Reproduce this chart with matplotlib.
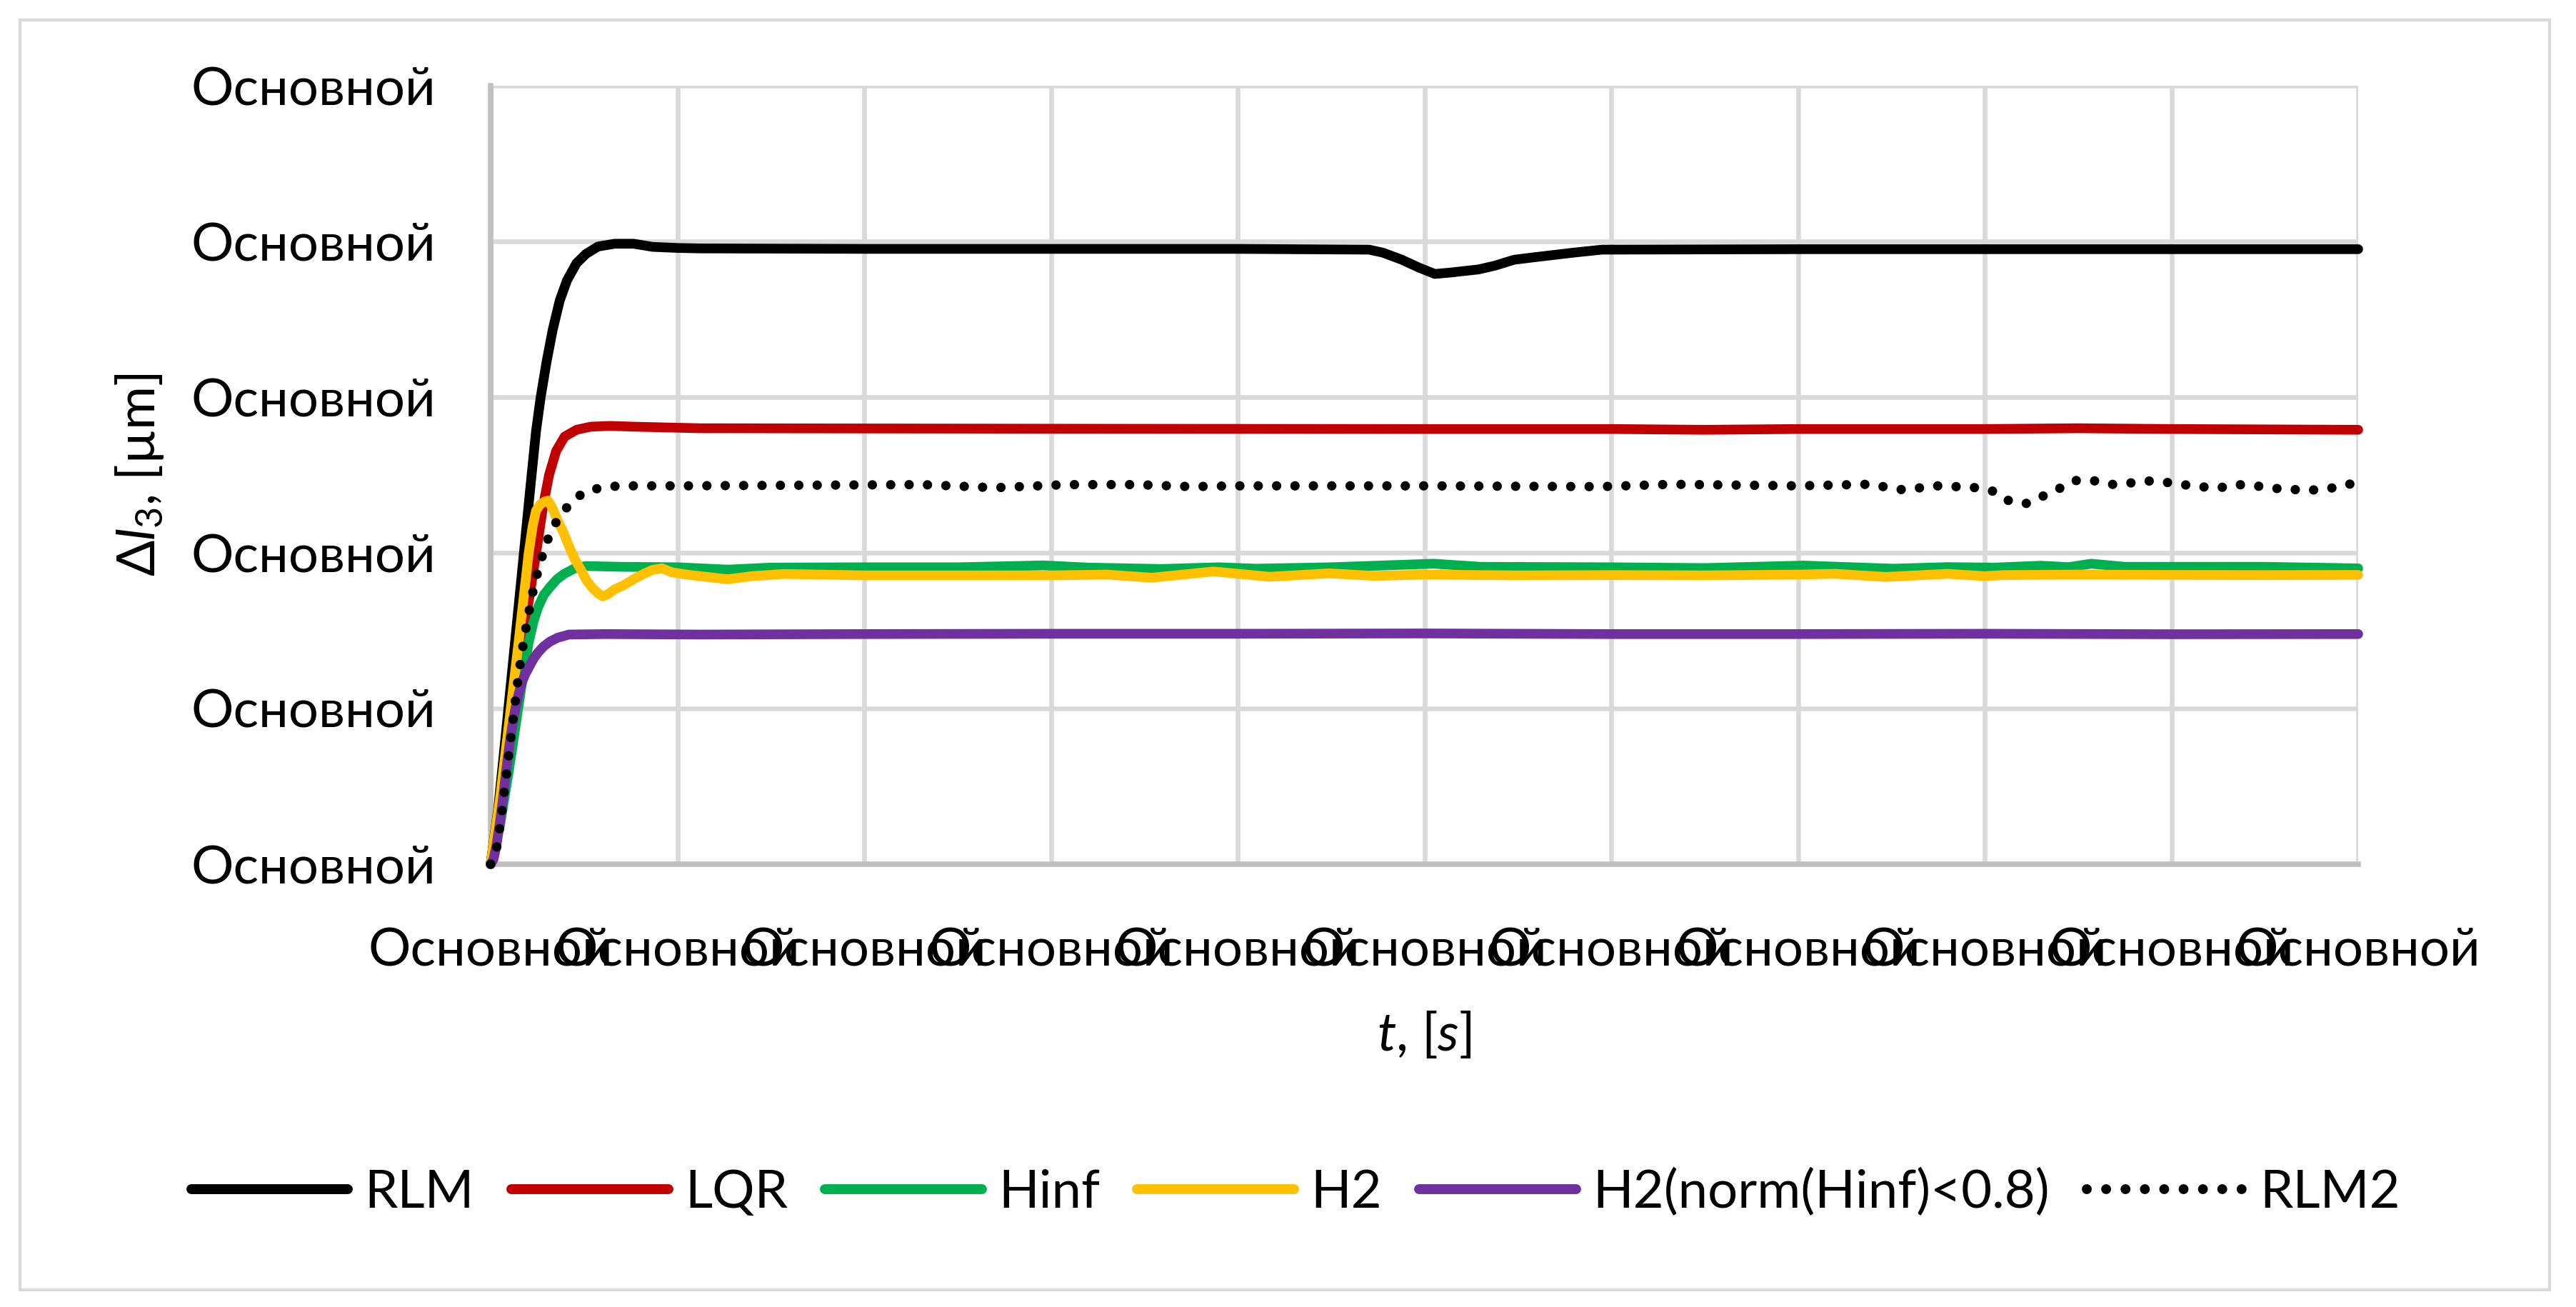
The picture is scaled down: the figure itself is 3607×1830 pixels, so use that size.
import matplotlib
matplotlib.use("Agg")
import matplotlib.pyplot as plt
from matplotlib.patches import Rectangle

plt.rcParams['font.family'] = ['Lato', 'DejaVu Sans']
plt.rcParams['mathtext.fontset'] = 'custom'
plt.rcParams['mathtext.rm'] = 'Lato'
plt.rcParams['mathtext.it'] = 'Lato:italic'
plt.rcParams['mathtext.bf'] = 'Lato:bold'

# ---------------- data ----------------
tick_label = "Основной"
x_ticks = [0, 1, 2, 3, 4, 5, 6, 7, 8, 9, 10]
y_ticks = [0, 1, 2, 3, 4, 5]

rlm_t = [0, 0.04, 0.08, 0.12, 0.15, 0.179, 0.211, 0.243, 0.268, 0.3, 0.332, 0.37, 0.409, 0.46,
         0.511, 0.575, 0.664, 0.766, 0.867, 1.0, 1.12, 2.0, 3.0, 4.0, 4.704, 4.777, 4.88, 4.97,
         5.056, 5.14, 5.29, 5.377, 5.48, 5.58, 5.8, 5.95, 7.0, 8.0, 9.0, 10.0]
rlm_v = [0, 0.35, 0.82, 1.3, 1.66, 2.01, 2.40, 2.78, 3.0, 3.23, 3.43, 3.62, 3.75, 3.86,
         3.92, 3.967, 3.985, 3.985, 3.965, 3.958, 3.955, 3.952, 3.952, 3.952, 3.947, 3.928, 3.882, 3.832,
         3.791, 3.80, 3.82, 3.844, 3.882, 3.897, 3.928, 3.947, 3.95, 3.95, 3.95, 3.95]

lqr_t = [0, 0.05, 0.1, 0.15, 0.2, 0.23, 0.255, 0.281, 0.313, 0.351, 0.396, 0.46, 0.536, 0.64,
         0.766, 1.12, 3.0, 5.0, 6.0, 6.5, 7.0, 8.0, 8.5, 9.0, 10.0]
lqr_v = [0, 0.38, 0.82, 1.27, 1.66, 1.89, 2.09, 2.3, 2.5, 2.654, 2.746, 2.79, 2.81, 2.815,
         2.81, 2.80, 2.797, 2.795, 2.795, 2.79, 2.795, 2.795, 2.80, 2.795, 2.79]

hinf_t = [0, 0.05, 0.1, 0.135, 0.165, 0.203, 0.23, 0.254, 0.285, 0.318, 0.355, 0.394, 0.45,
          0.51, 0.7, 1.0, 1.27, 1.5, 2.0, 2.5, 2.96, 3.2, 3.59, 3.9, 4.1, 4.5, 5.05, 5.3, 6.0,
          6.5, 7.03, 7.51, 7.8, 8.05, 8.3, 8.45, 8.57, 8.75, 9.5, 10.0]
hinf_v = [0, 0.25, 0.62, 0.9, 1.14, 1.42, 1.56, 1.65, 1.73, 1.78, 1.83, 1.865, 1.90,
          1.915, 1.91, 1.907, 1.892, 1.905, 1.907, 1.907, 1.919, 1.905, 1.896, 1.907, 1.898, 1.907, 1.93, 1.91, 1.907,
          1.902, 1.918, 1.898, 1.908, 1.905, 1.917, 1.908, 1.93, 1.91, 1.91, 1.90]

h2_t = [0, 0.05, 0.1, 0.152, 0.204, 0.225, 0.243, 0.265, 0.29, 0.307, 0.33, 0.358, 0.39, 0.42,
        0.45, 0.484, 0.515, 0.548, 0.575, 0.6, 0.63, 0.663, 0.71, 0.765, 0.82, 0.867, 0.918,
        0.969, 1.05, 1.12, 1.27, 1.4, 1.57, 2.0, 2.5, 3.0, 3.3, 3.54, 3.87, 4.17, 4.49, 4.73,
        5.0, 5.5, 6.0, 6.5, 7.0, 7.2, 7.47, 7.8, 8.0, 8.1, 8.5, 9.0, 9.5, 10.0]
h2_v = [0, 0.42, 0.92, 1.45, 2.0, 2.17, 2.27, 2.31, 2.33, 2.335, 2.29, 2.21, 2.13, 2.04,
        1.96, 1.89, 1.82, 1.77, 1.74, 1.72, 1.735, 1.765, 1.79, 1.83, 1.865, 1.89, 1.90,
        1.875, 1.86, 1.85, 1.83, 1.85, 1.864, 1.855, 1.855, 1.855, 1.86, 1.84, 1.88, 1.846, 1.868, 1.852,
        1.86, 1.855, 1.857, 1.855, 1.86, 1.865, 1.845, 1.865, 1.85, 1.857, 1.86, 1.858, 1.857, 1.858]

h2n_t = [0, 0.015, 0.031, 0.05, 0.07, 0.088, 0.107, 0.126, 0.145, 0.165, 0.185, 0.203, 0.23,
         0.254, 0.285, 0.318, 0.36, 0.42, 0.612, 1.12, 2.0, 3.0, 4.0, 5.0, 6.0, 7.0, 8.0, 9.0, 10.0]
h2n_v = [0, 0.03, 0.12, 0.27, 0.46, 0.65, 0.82, 0.96, 1.07, 1.16, 1.22, 1.26, 1.32,
         1.36, 1.40, 1.43, 1.455, 1.475, 1.478, 1.475, 1.478, 1.48, 1.48, 1.482, 1.478, 1.478, 1.48, 1.477, 1.478]

rlm2_t = [0, 0.031, 0.046, 0.059, 0.07, 0.082, 0.093, 0.105, 0.116, 0.128, 0.139, 0.152, 0.166,
          0.181, 0.198, 0.216, 0.235, 0.26, 0.286, 0.32, 0.366, 0.428, 0.5, 0.595, 0.69, 1.0,
          2.31, 2.7, 3.08, 3.46, 3.75, 4.0, 5.0, 5.94, 6.32, 7.0, 7.38, 7.56, 7.75, 7.94,
          8.047, 8.13, 8.22, 8.31, 8.40, 8.48, 8.58, 8.68, 8.77, 8.87, 8.97, 9.06, 9.16, 9.25,
          9.35, 9.44, 9.53, 9.63, 9.72, 9.82, 9.91, 10.0]
rlm2_v = [0, 0.095, 0.21, 0.324, 0.44, 0.55, 0.665, 0.78, 0.893, 1.006, 1.12, 1.235, 1.35,
          1.462, 1.576, 1.69, 1.80, 1.91, 2.02, 2.13, 2.23, 2.32, 2.39, 2.42, 2.43, 2.43,
          2.438, 2.418, 2.438, 2.438, 2.425, 2.43, 2.43, 2.425, 2.44, 2.43, 2.44, 2.405, 2.43, 2.42,
          2.395, 2.334, 2.316, 2.363, 2.413, 2.464, 2.464, 2.439, 2.447, 2.462, 2.453, 2.438, 2.424, 2.416,
          2.438, 2.433, 2.415, 2.409, 2.40, 2.409, 2.426, 2.456]

series = [
    ("RLM", rlm_t, rlm_v, "#000000", "-"),
    ("LQR", lqr_t, lqr_v, "#C00000", "-"),
    ("Hinf", hinf_t, hinf_v, "#00B050", "-"),
    ("H2", h2_t, h2_v, "#FFC000", "-"),
    ("H2(norm(Hinf)<0.8)", h2n_t, h2n_v, "#7030A0", "-"),
    ("RLM2", rlm2_t, rlm2_v, "#000000", ":"),
]

# ---------------- figure ----------------
W, H = 3607, 1830
fig = plt.figure(figsize=(W / 100, H / 100), dpi=100)
fig.patch.set_facecolor("white")
fig.patches.append(Rectangle((28 / W, 1 - 1806 / H), (3570 - 28) / W, (1806 - 28) / H,
                             transform=fig.transFigure, fill=False,
                             edgecolor="#d9d9d9", linewidth=3))

ax = fig.add_axes([687 / W, 1 - 1210 / H, (3302 - 687) / W, (1210 - 120) / H])
FS = 53.5

for name, t, v, col, ls in series:
    if ls == ":":
        ax.plot(t, v, color=col, lw=9.5, linestyle=(0, (0.001, 1.95)),
                dash_capstyle="round", label=name, clip_on=False, zorder=3)
    else:
        ax.plot(t, v, color=col, lw=9.8, solid_capstyle="round",
                solid_joinstyle="round", label=name, clip_on=False, zorder=3)

ax.set_xlim(0, 10)
ax.set_ylim(0, 5)
ax.set_xticks(x_ticks)
ax.set_yticks(y_ticks)
ax.set_xticklabels([tick_label] * len(x_ticks), fontsize=FS)
ax.set_yticklabels([tick_label] * len(y_ticks), fontsize=FS)
ax.tick_params(axis="both", length=0)
ax.tick_params(axis="y", pad=55)
ax.tick_params(axis="x", pad=64)
ax.grid(True, color="#d9d9d9", linewidth=4.7, zorder=0)
ax.set_axisbelow(True)
for s in ["top", "right"]:
    ax.spines[s].set_visible(False)
for s in ["left", "bottom"]:
    ax.spines[s].set_color("#bfbfbf")
    ax.spines[s].set_linewidth(5.4)
    ax.spines[s].set_zorder(1)

ax.set_xlabel(r"$\mathit{t}$, [$\mathit{s}$]", fontsize=FS)
ax.set_ylabel(r"$\mathit{Δl}_{\mathregular{3}}$, [µm]", fontsize=FS)
ax.xaxis.set_label_coords(0.5, -0.186)
ax.yaxis.set_label_coords(-0.174, 0.5)

leg = fig.legend(loc="center", bbox_to_anchor=(0.503, 1 - 1670 / H), ncol=6,
                 frameon=False, fontsize=FS, handlelength=2.96, handletextpad=0.31,
                 columnspacing=0.7)
for line in leg.get_lines():
    line.set_linewidth(10)

fig.savefig("out.png", dpi=100, facecolor="white")
